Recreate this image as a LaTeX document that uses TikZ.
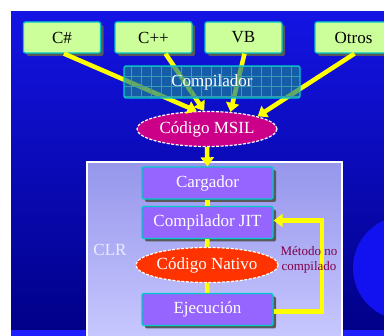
\documentclass[tikz,border=0pt]{standalone}
\usepackage{fontspec}
\setmainfont{Liberation Serif}
\usetikzlibrary{arrows.meta,shadows,shapes.geometric}

\definecolor{fondoarriba}{RGB}{20,20,228}
\definecolor{fondoabajo}{RGB}{0,0,135}
\definecolor{franja}{RGB}{30,30,255}
\definecolor{globo}{RGB}{18,18,240}
\definecolor{verdecaja}{RGB}{204,255,153}
\definecolor{borde}{RGB}{0,204,204}
\definecolor{colcompilador}{RGB}{25,130,150}
\definecolor{rejilla}{RGB}{55,155,178}
\definecolor{colmsil}{RGB}{204,0,136}
\definecolor{clrarriba}{RGB}{150,150,236}
\definecolor{clrabajo}{RGB}{200,200,255}
\definecolor{morado}{RGB}{150,100,255}
\definecolor{colnativo}{RGB}{255,51,0}
\definecolor{colmetodo}{RGB}{128,0,72}
\definecolor{amarillo}{RGB}{255,255,0}

\tikzset{
  sombra/.style={drop shadow={shadow xshift=3pt,shadow yshift=-3pt,fill=black!65,opacity=1}},
  lenguaje/.style={draw=borde,line width=1.3pt,fill=verdecaja,rounded corners=2pt,
    minimum width=77pt,minimum height=31pt,font=\fontsize{17}{19}\selectfont,sombra},
  etapa/.style={draw=borde,line width=1.3pt,fill=morado,text=white,rounded corners=2pt,
    minimum width=131pt,minimum height=32pt,font=\fontsize{17}{19}\selectfont,sombra},
  elipse/.style={ellipse,draw=white,dash pattern=on 3pt off 1.5pt,line width=1.2pt,text=white,
    minimum width=140pt,minimum height=35pt,inner sep=0pt,font=\fontsize{17}{19}\selectfont},
  flechaamarilla/.style={draw=amarillo,line width=4.5pt,-{Triangle[width=13pt,length=9pt]}},
  unionamarilla/.style={draw=amarillo,line width=4.5pt}
}

\begin{document}
\begin{tikzpicture}[x=1pt,y=-1pt]
\useasboundingbox (0,0) rectangle (384,336);
\begin{scope}
\clip (0,0) rectangle (384,336);
\fill[top color=fondoarriba,bottom color=fondoabajo] (11,12) rectangle (384,336);
\fill[franja] (11,330) rectangle (384,336);
\fill[globo] (405,268) circle (52);

% lenguajes
\node[lenguaje] (cs) at (62,37.5) {C\#};
\node[lenguaje] (cpp) at (153.5,37.5) {C++};
\node[lenguaje] (vb) at (243.5,37.5) {VB};
\node[lenguaje] (otros) at (353.5,37.5) {Otros};

\node[elipse,fill=colmsil] (msil) at (207,129) {Código MSIL};

\draw[flechaamarilla] ([xshift=2pt]cs.south) -- (msil.120);
\draw[flechaamarilla] ([xshift=12pt]cpp.south) -- (msil.99);
\draw[flechaamarilla] ([xshift=1pt]vb.south) -- (msil.36);
\draw[flechaamarilla] ([xshift=1pt]otros.south) -- (msil.14);

\node[draw=borde,line width=1.3pt,fill=colcompilador,fill opacity=0.68,text opacity=1,text=white,
  rounded corners=2pt,minimum width=176pt,minimum height=32pt,font=\fontsize{17}{19}\selectfont,
  path picture={\draw[rejilla,line width=0.5pt,step=10pt]
    (path picture bounding box.south west) grid (path picture bounding box.north east);}]
  (compilador) at (212,82) {Compilador};

% CLR
\draw[white,line width=1.2pt,top color=clrarriba,bottom color=clrabajo] (87,162) rectangle (342,340);
\node[text=white!92!blue,font=\fontsize{17}{19}\selectfont] (clr) at (110,250) {CLR};

\node[etapa] (cargador) at (207.5,183) {Cargador};
\node[etapa] (jit) at (207.5,222.5) {Compilador JIT};
\node[elipse,fill=colnativo] (nativo) at (207,265) {Código Nativo};
\node[etapa] (ejecucion) at (207.5,309.5) {Ejecución};

\draw[flechaamarilla] (msil.south) -- (cargador.north);
\draw[unionamarilla] (cargador.south) -- (jit.north);
\draw[unionamarilla] (jit.south) -- (nativo.north);
\draw[unionamarilla] (nativo.south) -- (ejecucion.north);

\coordinate (vuelta) at (322,265);
\draw[flechaamarilla] ([yshift=-2pt]ejecucion.east) -| (vuelta) |- ([yshift=2pt]jit.east);

\node[text=colmetodo,align=center,font=\fontsize{13}{15}\selectfont] (metodo) at (309,260) {Método no\\compilado};
\end{scope}
\end{tikzpicture}
\end{document}
